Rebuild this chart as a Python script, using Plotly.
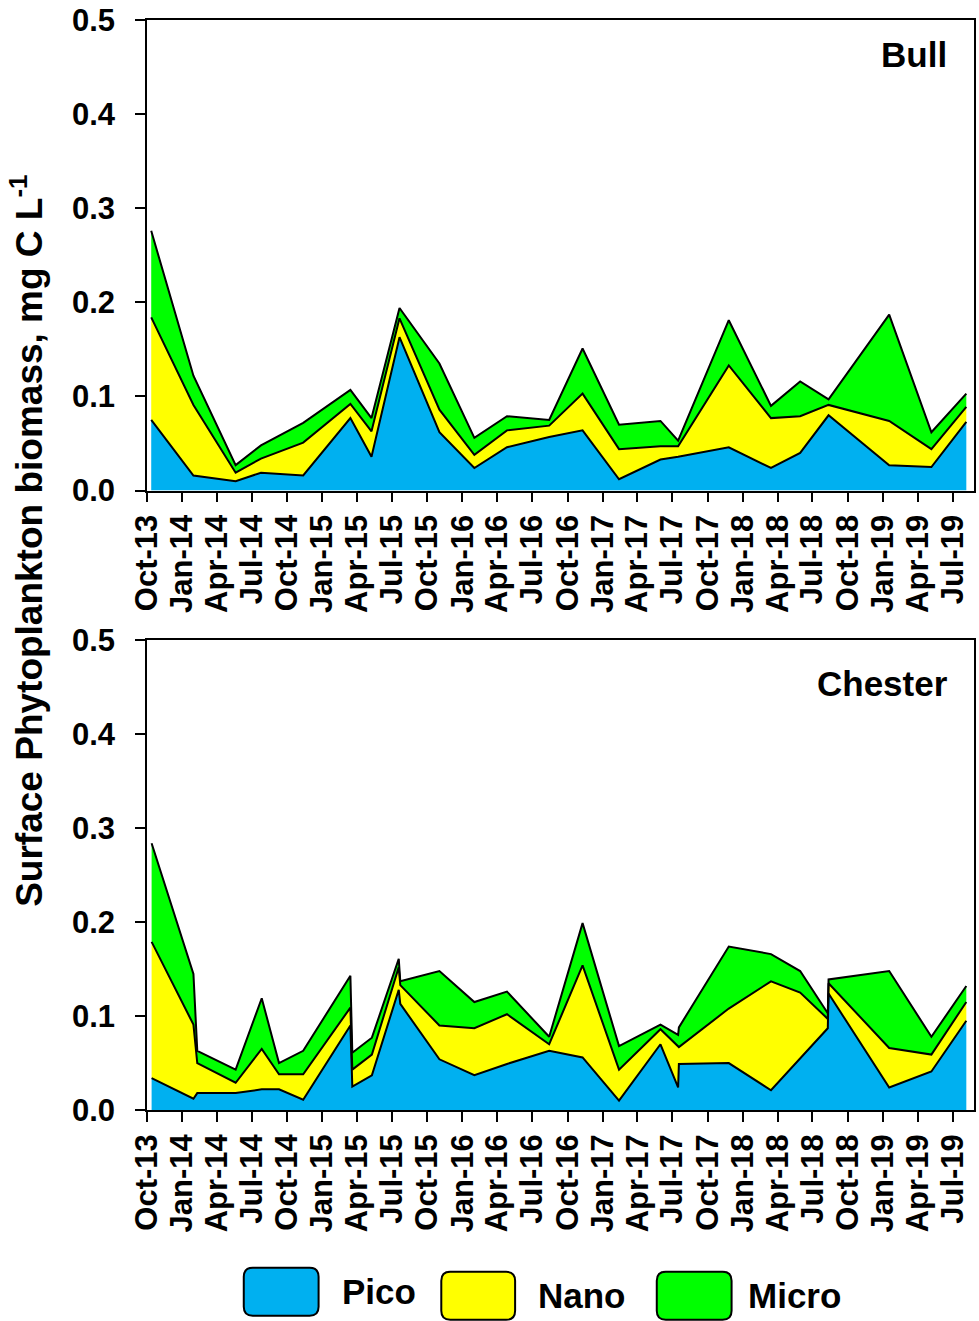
import plotly.graph_objects as go
import pandas as pd

# ---------------- data ----------------
tick_labels = ["Oct-13", "Jan-14", "Apr-14", "Jul-14", "Oct-14", "Jan-15", "Apr-15", "Jul-15",
               "Oct-15", "Jan-16", "Apr-16", "Jul-16", "Oct-16", "Jan-17", "Apr-17", "Jul-17",
               "Oct-17", "Jan-18", "Apr-18", "Jul-18", "Oct-18", "Jan-19", "Apr-19", "Jul-19"]

bull_dates = ["2013-10-12", "2014-01-30", "2014-05-20", "2014-07-25", "2014-11-12", "2015-03-15",
              "2015-05-09", "2015-07-21", "2015-11-02", "2016-02-01", "2016-04-26", "2016-08-14",
              "2016-11-09", "2017-02-12", "2017-05-31", "2017-07-16", "2017-11-25", "2018-03-15",
              "2018-05-30", "2018-08-12", "2019-01-17", "2019-05-07", "2019-08-06"]
bull_pico = [0.075, 0.016, 0.010, 0.019, 0.016, 0.077, 0.036, 0.163, 0.062, 0.024, 0.046, 0.057,
             0.064, 0.012, 0.033, 0.036, 0.046, 0.024, 0.040, 0.080, 0.027, 0.025, 0.073]
bull_nano = [0.109, 0.075, 0.009, 0.015, 0.035, 0.015, 0.027, 0.020, 0.024, 0.014, 0.018, 0.012,
             0.039, 0.032, 0.014, 0.011, 0.087, 0.053, 0.039, 0.011, 0.047, 0.019, 0.016]
bull_micro = [0.092, 0.031, 0.008, 0.014, 0.021, 0.015, 0.014, 0.011, 0.049, 0.018, 0.015, 0.006,
              0.048, 0.026, 0.027, 0.006, 0.048, 0.013, 0.037, 0.006, 0.113, 0.018, 0.014]

chester_dates = ["2013-10-13", "2014-01-30", "2014-02-09", "2014-05-20", "2014-07-27", "2014-09-10",
                 "2014-11-12", "2015-03-15", "2015-03-20", "2015-05-10", "2015-07-19", "2015-07-23",
                 "2015-11-02", "2016-02-01", "2016-04-26", "2016-08-14", "2016-11-09", "2017-02-12",
                 "2017-05-31", "2017-07-16", "2017-07-18", "2017-11-25", "2018-03-15", "2018-05-30",
                 "2018-08-10", "2018-08-12", "2019-01-17", "2019-05-07", "2019-08-06"]
chester_pico = [0.034, 0.012, 0.018, 0.018, 0.022, 0.022, 0.011, 0.090, 0.025, 0.037, 0.128, 0.113,
                0.054, 0.037, 0.049, 0.063, 0.056, 0.010, 0.070, 0.024, 0.049, 0.050, 0.021, 0.055,
                0.087, 0.124, 0.024, 0.041, 0.095]
chester_nano = [0.145, 0.079, 0.032, 0.011, 0.043, 0.016, 0.027, 0.019, 0.018, 0.022, 0.024, 0.020,
                0.036, 0.050, 0.053, 0.007, 0.098, 0.033, 0.016, 0.043, 0.018, 0.058, 0.116, 0.070,
                0.010, 0.011, 0.042, 0.018, 0.020]
chester_micro = [0.105, 0.054, 0.013, 0.014, 0.054, 0.012, 0.025, 0.034, 0.018, 0.018, 0.009, 0.004,
                 0.058, 0.028, 0.024, 0.008, 0.045, 0.025, 0.005, 0.013, 0.021, 0.066, 0.029, 0.023,
                 0.006, 0.004, 0.082, 0.019, 0.017]

series_names = ["Pico", "Nano", "Micro"]
site_names = ["Bull", "Chester"]

# ---------------- style ----------------
W, H = 979, 1321
# plot-area bounds in pixels
SL, SR, ST, SB = 147, 976, 19, 1110
colors = {"Pico": "#00B0F0", "Nano": "#FFFF00", "Micro": "#00FF00"}
FONT = "Liberation Sans, Arial, sans-serif"


def fx(px):
    return (px - SL) / (SR - SL)


def fy(py):
    return (SB - py) / (SB - ST)


top_domain = [fy(490), 1.0]
bot_domain = [0.0, fy(640)]

tick_dates = [pd.to_datetime(t, format="%b-%y").strftime("%Y-%m-%d") for t in tick_labels]
x_range = ["2013-10-01", "2019-08-26"]

fig = go.Figure()

sites = [
    (bull_dates, {"Pico": bull_pico, "Nano": bull_nano, "Micro": bull_micro}, "x", "y"),
    (chester_dates, {"Pico": chester_pico, "Nano": chester_nano, "Micro": chester_micro}, "x2", "y2"),
]
for i, (dates, vals, xa, ya) in enumerate(sites):
    for name in series_names:
        fig.add_trace(go.Scatter(
            x=dates, y=vals[name], mode="lines", stackgroup=f"site{i}",
            line=dict(color="black", width=2), fillcolor=colors[name],
            name=name, showlegend=False, xaxis=xa, yaxis=ya,
            hovertemplate="%{x|%d %b %Y}<br>" + name + ": %{y:.3f}<extra></extra>",
        ))

tickfont = dict(family=FONT, size=31, color="black", weight="bold")
common_x = dict(type="date", range=x_range, tickvals=tick_dates, ticktext=tick_labels,
                tickangle=-90, ticks="outside", ticklen=10, tickwidth=1.5, tickcolor="black",
                showline=True, linecolor="black", linewidth=1.5, mirror=True,
                showgrid=False, zeroline=False, tickfont=tickfont)
common_y = dict(range=[0, 0.5], tick0=0, dtick=0.1, tickformat=".1f",
                ticks="outside", ticklen=10, tickwidth=1.5, tickcolor="black",
                showline=True, linecolor="black", linewidth=1.5, mirror=True,
                showgrid=False, zeroline=False, tickfont=tickfont, ticklabelstandoff=14)

fig.update_layout(
    width=W, height=H, autosize=False,
    margin=dict(l=SL, r=W - SR, t=ST, b=H - SB, pad=0),
    paper_bgcolor="white", plot_bgcolor="white",
    showlegend=False,
    xaxis=dict(domain=[0, 1], anchor="y", **common_x),
    yaxis=dict(domain=top_domain, anchor="x", **common_y),
    xaxis2=dict(domain=[0, 1], anchor="y2", **common_x),
    yaxis2=dict(domain=bot_domain, anchor="x2", **common_y),
)

annotations = []
# y-axis title
annotations.append(dict(
    text="Surface Phytoplankton biomass, mg C L<sup>-1</sup>",
    xref="paper", yref="paper", x=fx(27), y=fy(540), xanchor="center", yanchor="middle",
    textangle=-90, showarrow=False,
    font=dict(family=FONT, size=37, color="black", weight="bold")))
# site labels
annotations.append(dict(text=site_names[0], xref="paper", yref="paper", x=fx(951), y=fy(54),
                        xanchor="right", yanchor="middle", showarrow=False,
                        font=dict(family=FONT, size=35, color="black", weight="bold")))
annotations.append(dict(text=site_names[1], xref="paper", yref="paper", x=fx(952), y=fy(683),
                        xanchor="right", yanchor="middle", showarrow=False,
                        font=dict(family=FONT, size=35, color="black", weight="bold")))

# custom legend with rounded swatches (pixel positions)
shapes = []
legend_boxes = [(244, 1268, 319, 1316, 340), (442, 1272, 516, 1320, 537), (658, 1272, 733, 1320, 747)]


def rounded_path(x0, y0, x1, y1, r):
    def P(px, py):
        return f"{fx(px):.5f},{fy(py):.5f}"
    return (f"M {P(x0 + r, y0)} L {P(x1 - r, y0)} Q {P(x1, y0)} {P(x1, y0 + r)} "
            f"L {P(x1, y1 - r)} Q {P(x1, y1)} {P(x1 - r, y1)} "
            f"L {P(x0 + r, y1)} Q {P(x0, y1)} {P(x0, y1 - r)} "
            f"L {P(x0, y0 + r)} Q {P(x0, y0)} {P(x0 + r, y0)} Z")


for name, (x0, y0, x1, y1, tx) in zip(series_names, legend_boxes):
    shapes.append(dict(type="path", xref="paper", yref="paper",
                       path=rounded_path(x0, y0, x1, y1, 9),
                       fillcolor=colors[name], line=dict(color="black", width=2)))
    annotations.append(dict(text=name, xref="paper", yref="paper", x=fx(tx), y=fy((y0 + y1) / 2),
                            xanchor="left", yanchor="middle", showarrow=False,
                            font=dict(family=FONT, size=35, color="black", weight="bold")))

fig.update_layout(annotations=annotations, shapes=shapes)

fig.write_html("out.html", config={"displayModeBar": False},
               post_script="document.body.style.margin='0';document.body.style.overflow='hidden';")
